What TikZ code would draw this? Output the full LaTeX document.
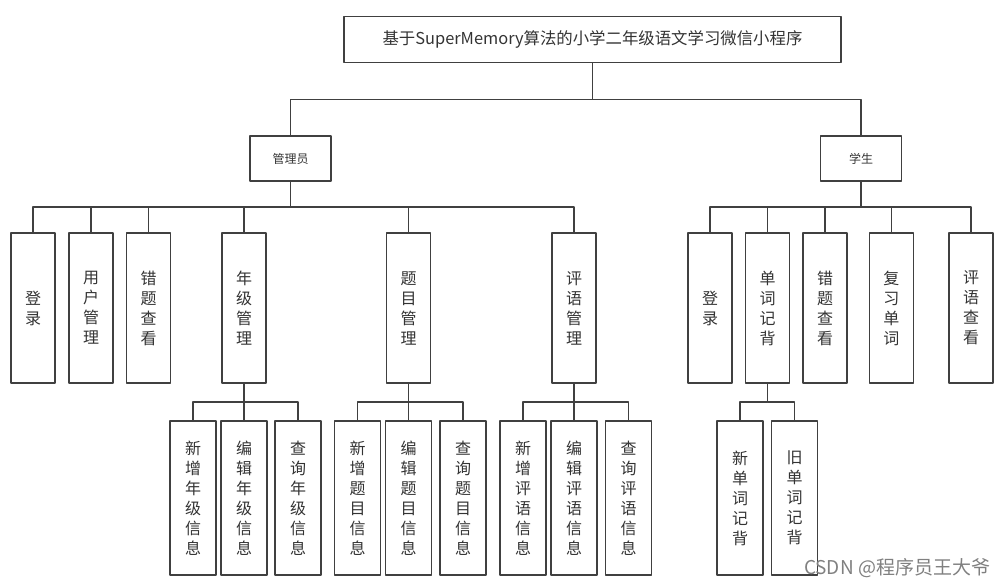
\documentclass[tikz,border=0pt]{standalone}
\usepackage{fontspec}
\setmainfont{Noto Sans CJK SC}
\usetikzlibrary{calc}
\definecolor{linegray}{HTML}{404040}
\definecolor{textgray}{HTML}{333333}
\definecolor{markgray}{HTML}{808080}
\tikzset{
  box/.style={draw=linegray, line width=1.5pt, inner sep=0pt, text=textgray, align=center},
  rolebox/.style={box, minimum width=81pt, minimum height=45pt, font=\fontsize{12}{14}\selectfont},
  funcbox/.style={box, minimum width=44pt, minimum height=150pt},
  subbox/.style={box, minimum width=46pt, minimum height=154pt},
  fork/.style={draw=linegray, line width=1.5pt,
    to path={|- ($(\tikztostart)!.5!(\tikztotarget)$) -| (\tikztotarget)}},
  watermark/.style={text=markgray, font=\fontsize{19}{21}\selectfont, inner sep=0pt}
}
\begin{document}
\begin{tikzpicture}[x=1pt,y=-1pt,line join=round,font=\fontsize{16}{20}\selectfont]
  \useasboundingbox (0,0) rectangle (1008,587);
  \node[box, minimum width=497pt, minimum height=46pt, font=\fontsize{16.4}{20}\selectfont] (title) at (592.5,39.5)
    {基于SuperMemory算法的小学二年级语文学习微信小程序};
  \node[rolebox] (admin) at (290.5,158.5) {管理员};
  \node[rolebox] (stu) at (861,158.5) {学生};
  % admin functions
  \node[funcbox] (a1) at (33,308) {登\\录};
  \node[funcbox] (a2) at (91,308) {用\\户\\管\\理};
  \node[funcbox] (a3) at (148.5,308) {错\\题\\查\\看};
  \node[funcbox] (a4) at (244,308) {年\\级\\管\\理};
  \node[funcbox] (a5) at (408.5,308) {题\\目\\管\\理};
  \node[funcbox] (a6) at (574,308) {评\\语\\管\\理};
  % student functions
  \node[funcbox] (s1) at (710,308) {登\\录};
  \node[funcbox] (s2) at (767.7,308) {单\\词\\记\\背};
  \node[funcbox] (s3) at (825,308) {错\\题\\查\\看};
  \node[funcbox] (s4) at (891.3,308) {复\\习\\单\\词};
  \node[funcbox] (s5) at (971,308) {评\\语\\查\\看};
  % grade
  \node[subbox] (g1) at (193,498) {新\\增\\年\\级\\信\\息};
  \node[subbox] (g2) at (244,498) {编\\辑\\年\\级\\信\\息};
  \node[subbox] (g3) at (298,498) {查\\询\\年\\级\\信\\息};
  % questions
  \node[subbox] (q1) at (357.5,498) {新\\增\\题\\目\\信\\息};
  \node[subbox] (q2) at (408.5,498) {编\\辑\\题\\目\\信\\息};
  \node[subbox] (q3) at (463,498) {查\\询\\题\\目\\信\\息};
  % comments
  \node[subbox] (c1) at (523,498) {新\\增\\评\\语\\信\\息};
  \node[subbox] (c2) at (574,498) {编\\辑\\评\\语\\信\\息};
  \node[subbox] (c3) at (628.7,498) {查\\询\\评\\语\\信\\息};
  % words
  \node[subbox] (w1) at (740,498) {新\\单\\词\\记\\背};
  \node[subbox] (w2) at (794.7,498) {旧\\单\\词\\记\\背};
  % connectors
  \foreach \from/\to in {title/admin, title/stu,
      admin/a1, admin/a2, admin/a3, admin/a4, admin/a5, admin/a6,
      stu/s1, stu/s2, stu/s3, stu/s4, stu/s5,
      a4/g1, a4/g2, a4/g3, a5/q1, a5/q2, a5/q3,
      a6/c1, a6/c2, a6/c3, s2/w1, s2/w2}
    \draw[fork] (\from.south) to (\to.north);
  \node[watermark] (mark) at (897,568) {CSDN @程序员王大爷};
\end{tikzpicture}
\end{document}
